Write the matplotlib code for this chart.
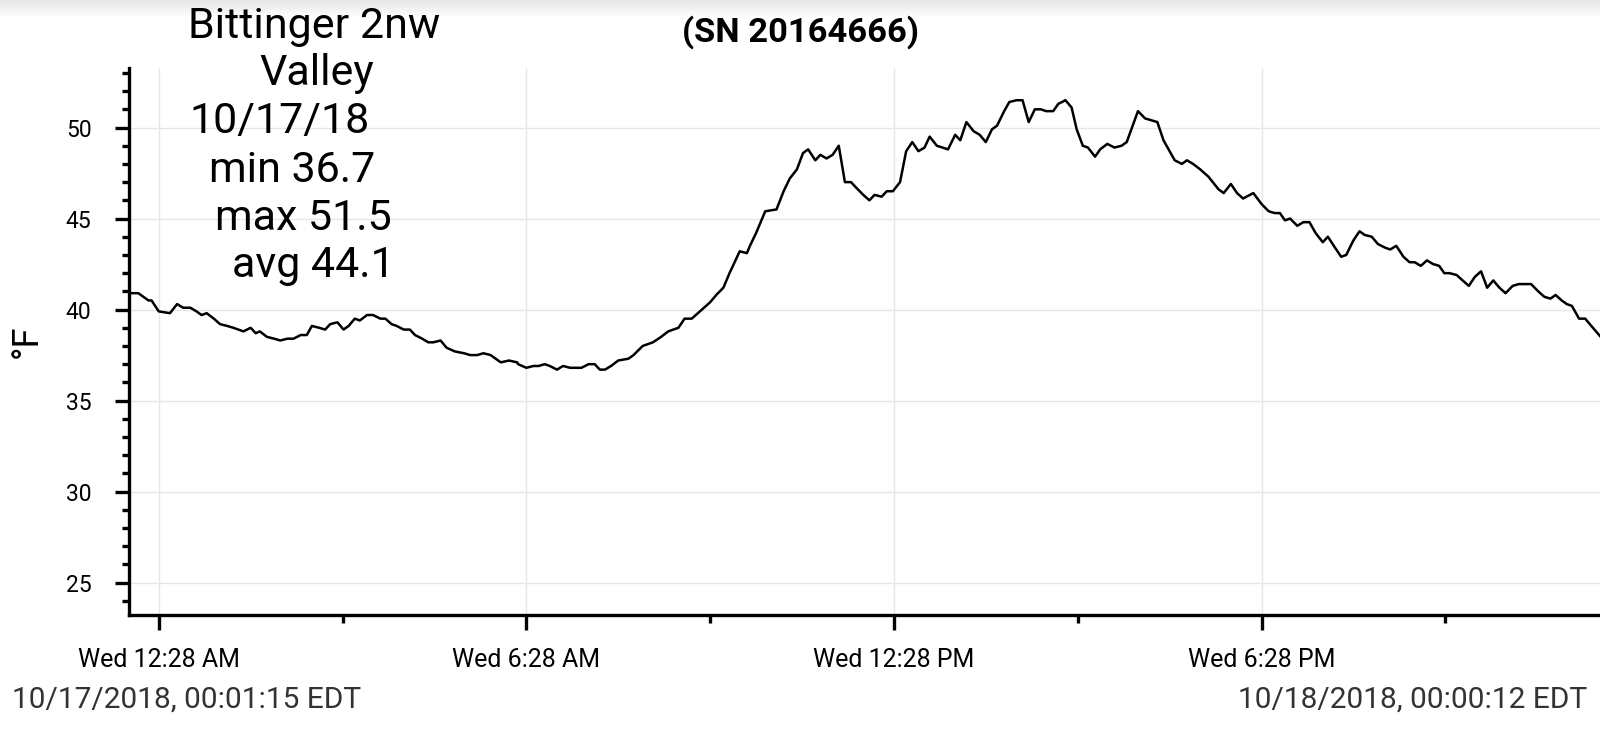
import pandas as pd
import numpy as np
import matplotlib.pyplot as plt
import matplotlib.dates as mdates
from matplotlib.ticker import FixedLocator, MultipleLocator, NullFormatter

plt.rcParams['font.family'] = ['Roboto', 'DejaVu Sans']

# === data: minutes after midnight 10/17/2018 and temperature (°F) ===
minutes = [1.25, 8, 18, 21, 28, 39, 46, 52, 59, 65, 70, 75, 82, 88, 95, 101, 111, 118, 123, 127,
           134, 141, 147, 154, 160, 167, 173, 178, 185, 191, 196, 203, 209, 214, 220, 225, 232, 238,
           245, 250, 256, 261, 268, 274, 279, 286, 292, 297, 304, 310, 318, 327, 333, 340, 346, 353,
           358, 363, 371, 379, 380, 388, 395, 400, 406, 411, 418, 424, 431, 442, 449, 455, 460, 465,
           471, 478, 488, 493, 502, 512, 520, 527, 537, 543, 550, 558, 568, 574, 581, 587, 597, 604,
           607, 613, 622, 633, 640, 646, 653, 659, 664, 671, 676, 682, 688, 694, 700, 706, 711, 718,
           724, 729, 736, 741, 747, 754, 760, 766, 772, 778, 783, 790, 801, 808, 813, 819, 826, 832,
           838, 844, 849, 856, 861, 868, 874, 880, 886, 892, 897, 904, 909, 916, 922, 927, 933, 938,
           945, 950, 957, 964, 971, 976, 987, 994, 1000, 1006, 1012, 1017, 1023, 1030, 1035, 1041,
           1048, 1056, 1066, 1071, 1078, 1084, 1090, 1100, 1108, 1115, 1121, 1126, 1131, 1136, 1143,
           1149, 1155, 1161, 1168, 1173, 1180, 1186, 1191, 1198, 1204, 1209, 1216, 1222, 1229, 1234,
           1240, 1247, 1253, 1258, 1264, 1270, 1276, 1282, 1287, 1292, 1299, 1305, 1311, 1317, 1323,
           1329, 1335, 1341, 1347, 1354, 1360, 1372, 1379, 1385, 1391, 1396, 1402, 1407, 1412, 1419,
           1425, 1431, 1440.2]
temps = [40.9, 40.9, 40.5, 40.5, 39.9, 39.8, 40.3, 40.1, 40.1, 39.9, 39.7, 39.8, 39.5, 39.2, 39.1,
         39.0, 38.8, 39.0, 38.7, 38.8, 38.5, 38.4, 38.3, 38.4, 38.4, 38.6, 38.6, 39.1, 39.0, 38.9,
         39.2, 39.3, 38.9, 39.1, 39.5, 39.4, 39.7, 39.7, 39.5, 39.5, 39.2, 39.1, 38.9, 38.9, 38.6,
         38.4, 38.2, 38.2, 38.3, 37.9, 37.7, 37.6, 37.5, 37.5, 37.6, 37.5, 37.3, 37.1, 37.2, 37.1,
         37.0, 36.8, 36.9, 36.9, 37.0, 36.9, 36.7, 36.9, 36.8, 36.8, 37.0, 37.0, 36.7, 36.7, 36.9,
         37.2, 37.3, 37.5, 38.0, 38.2, 38.5, 38.8, 39.0, 39.5, 39.5, 39.9, 40.4, 40.8, 41.2, 42.0,
         43.2, 43.1, 43.5, 44.2, 45.4, 45.5, 46.5, 47.2, 47.7, 48.6, 48.8, 48.2, 48.5, 48.3, 48.5,
         49.0, 47.0, 47.0, 46.7, 46.3, 46.0, 46.3, 46.2, 46.5, 46.5, 47.0, 48.7, 49.2, 48.7, 48.9,
         49.5, 49.0, 48.8, 49.6, 49.3, 50.3, 49.8, 49.6, 49.2, 49.9, 50.1, 50.9, 51.4, 51.5, 51.5,
         50.3, 51.0, 51.0, 50.9, 50.9, 51.3, 51.5, 51.1, 49.9, 49.0, 48.9, 48.4, 48.8, 49.1, 48.9,
         49.0, 49.2, 50.9, 50.5, 50.4, 50.3, 49.3, 48.8, 48.2, 48.0, 48.2, 48.0, 47.7, 47.3, 46.6,
         46.4, 46.9, 46.4, 46.1, 46.4, 45.8, 45.4, 45.3, 45.3, 44.9, 45.0, 44.6, 44.8, 44.8, 44.2,
         43.7, 44.0, 43.4, 42.9, 43.0, 43.8, 44.3, 44.1, 44.0, 43.6, 43.4, 43.3, 43.5, 42.9, 42.6,
         42.6, 42.4, 42.7, 42.5, 42.4, 42.0, 42.0, 41.9, 41.6, 41.3, 41.8, 42.1, 41.2, 41.6, 41.2,
         40.9, 41.3, 41.4, 41.4, 41.0, 40.7, 40.6, 40.8, 40.5, 40.3, 40.2, 39.5, 39.5, 39.1, 38.5]

major_ticks = ['00:28', '06:28', '12:28', '18:28']
minor_ticks = ['03:28', '09:28', '15:28', '21:28']
tick_labels = ['Wed 12:28 AM', 'Wed 6:28 AM', 'Wed 12:28 PM', 'Wed 6:28 PM']
info_lines = ['Bittinger 2nw', 'Valley', '10/17/18', 'min 36.7', 'max 51.5', 'avg 44.1']
title = '(SN 20164666)'
start_label = '10/17/2018, 00:01:15 EDT'
end_label = '10/18/2018, 00:00:12 EDT'

day = pd.Timestamp('2018-10-17')
times = day + pd.to_timedelta(minutes, unit='min')
to_num = lambda hm: mdates.date2num(day + pd.Timedelta(hm + ':00'))

# === figure ===
W, H = 1600, 730
fig = plt.figure(figsize=(W / 100, H / 100), dpi=100)

# faint shadow at the top edge
shade = fig.add_axes([0, 1 - 18 / H, 1, 18 / H], zorder=-1)
shade.imshow(np.linspace(0.90, 1.0, 50).reshape(-1, 1), cmap='gray', vmin=0, vmax=1,
             aspect='auto', extent=[0, 1, 0, 1])
shade.axis('off')

ax = fig.add_axes([129 / W, 1 - 615 / H, 1 - 129 / W, (615 - 68) / H])

ax.plot(times, temps, color='black', lw=1.8, zorder=3)

ax.set_xlim(mdates.date2num(day - pd.Timedelta(minutes=1.1)),
            mdates.date2num(day + pd.Timedelta(minutes=1439.5)))
ax.set_ylim(23.22, 53.27)

ax.xaxis.set_major_locator(FixedLocator([to_num(t) for t in major_ticks]))
ax.xaxis.set_minor_locator(FixedLocator([to_num(t) for t in minor_ticks]))
ax.set_xticklabels(tick_labels)
ax.xaxis.set_minor_formatter(NullFormatter())
ax.yaxis.set_major_locator(MultipleLocator(5))
ax.yaxis.set_minor_locator(MultipleLocator(1))

for s in ['top', 'right']:
    ax.spines[s].set_visible(False)
for s in ['left', 'bottom']:
    ax.spines[s].set_linewidth(2.4)

ax.tick_params(axis='y', which='major', length=10, width=2.4, pad=17, labelsize=16.5)
ax.tick_params(axis='y', which='minor', length=5, width=2.4)
ax.tick_params(axis='x', which='major', length=11, width=2.4, pad=13, labelsize=18)
ax.tick_params(axis='x', which='minor', length=6, width=2.4)
ax.grid(True, which='major', color='#e6e6e6', lw=1)
ax.set_axisbelow(True)

# === texts ===
fig.text(27 / W, 1 - 341 / H, '°F', rotation=90, ha='center', va='center', fontsize=26)
fig.text(800 / W, 1 - 42 / H, title, ha='center', va='baseline', fontsize=24.8, fontweight='bold')

info_pos = [(314, 38), (317, 85), (280, 133), (292, 182), (303, 230), (313, 277)]
for txt, (x, y) in zip(info_lines, info_pos):
    fig.text(x / W, 1 - y / H, txt, ha='center', va='baseline', fontsize=31, zorder=5)

fig.text(12 / W, 1 - 708 / H, start_label, ha='left', va='baseline', fontsize=21.5, color='#333333')
fig.text(1587 / W, 1 - 708 / H, end_label, ha='right', va='baseline', fontsize=21.5, color='#333333')

fig.savefig('out.png', dpi=100)
